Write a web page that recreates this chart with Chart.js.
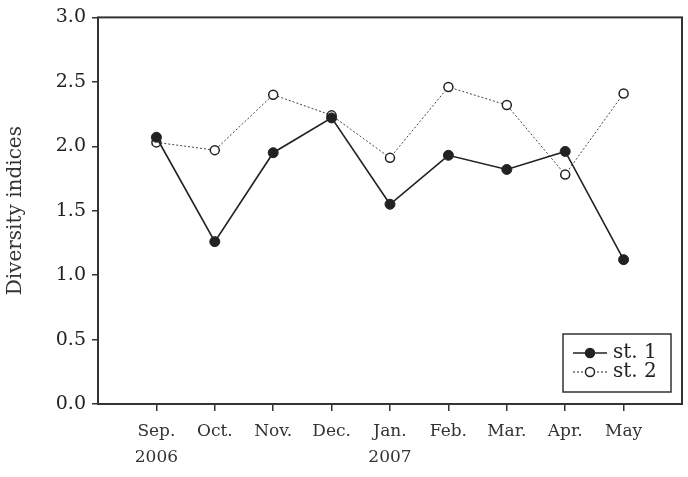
<!DOCTYPE html>
<html>
<head>
<meta charset="utf-8">
<script src="https://cdn.jsdelivr.net/npm/chart.js@4"></script>
<style>
  html, body { margin: 0; padding: 0; background: #fff; }
  #wrap { width: 688px; height: 477px; }
</style>
</head>
<body>
<div id="wrap"><canvas id="myChart" width="688" height="477"></canvas></div>
<script>
var months = ['Sep.', 'Oct.', 'Nov.', 'Dec.', 'Jan.', 'Feb.', 'Mar.', 'Apr.', 'May'];
var years = ['2006', '', '', '', '2007', '', '', '', ''];
var st1 = [2.07, 1.26, 1.95, 2.22, 1.55, 1.93, 1.82, 1.96, 1.12];
var st2 = [2.03, 1.97, 2.40, 2.24, 1.91, 2.46, 2.32, 1.78, 2.41];
var yTicks = ['0.0', '0.5', '1.0', '1.5', '2.0', '2.5', '3.0'];

var ink = '#222';
var serif = "'DejaVu Serif', serif";

function toPoints(values) {
    return values.map(function (v, i) { return { x: i, y: v }; });
}

// box round the plot and the little legend in the lower right
var framePlugin = {
    id: 'frame',
    afterDraw: function (chart) {
        var ctx = chart.ctx;
        var a = chart.chartArea;
        ctx.save();
        ctx.strokeStyle = '#333';
        ctx.lineWidth = 2;
        ctx.strokeRect(a.left, a.top, a.right - a.left, a.bottom - a.top);

        var bx = a.right - 119, by = a.bottom - 70, bw = 108, bh = 58;
        ctx.fillStyle = '#fff';
        ctx.fillRect(bx, by, bw, bh);
        ctx.lineWidth = 1.5;
        ctx.strokeRect(bx, by, bw, bh);

        var rows = [
            { label: 'st. 1', dash: [], fill: ink, y: by + 19 },
            { label: 'st. 2', dash: [2, 2], fill: '#fff', y: by + 38 }
        ];
        rows.forEach(function (r) {
            ctx.strokeStyle = ink;
            ctx.lineWidth = r.dash.length ? 1 : 1.5;
            ctx.setLineDash(r.dash);
            ctx.beginPath();
            ctx.moveTo(bx + 10, r.y);
            ctx.lineTo(bx + 44, r.y);
            ctx.stroke();
            ctx.setLineDash([]);
            ctx.beginPath();
            ctx.arc(bx + 27, r.y, 4.5, 0, Math.PI * 2);
            ctx.fillStyle = r.fill;
            ctx.fill();
            ctx.lineWidth = 1.5;
            ctx.stroke();
            ctx.fillStyle = ink;
            ctx.font = '20px ' + serif;
            ctx.textBaseline = 'middle';
            ctx.fillText(r.label, bx + 50, r.y);
        });
        ctx.restore();
    }
};

var ctx = document.getElementById('myChart').getContext('2d');
var chart = new Chart(ctx, {
    type: 'line',
    data: {
        datasets: [{
            label: 'st. 1',
            data: toPoints(st1),
            borderColor: ink,
            borderWidth: 1.6,
            pointBackgroundColor: ink,
            pointBorderColor: ink,
            pointRadius: 5,
            pointBorderWidth: 1,
            fill: false,
            tension: 0
        }, {
            label: 'st. 2',
            data: toPoints(st2),
            borderColor: '#444',
            borderWidth: 1,
            borderDash: [2, 2],
            pointBackgroundColor: '#fff',
            pointBorderColor: ink,
            pointRadius: 4.5,
            pointBorderWidth: 1.5,
            fill: false,
            tension: 0
        }]
    },
    options: {
        responsive: false,
        animation: false,
        layout: { padding: { top: 15, right: 6, left: 0, bottom: 0 } },
        plugins: {
            legend: { display: false },
            tooltip: { enabled: false }
        },
        scales: {
            x: {
                type: 'linear',
                min: -1,
                max: 9,
                afterBuildTicks: function (axis) {
                    axis.ticks = months.map(function (m, i) { return { value: i }; });
                },
                afterFit: function (axis) { axis.height = 73; },
                border: { display: false },
                grid: { drawOnChartArea: false, tickLength: 7, color: '#333', lineWidth: 1.5 },
                ticks: {
                    autoSkip: false,
                    maxRotation: 0,
                    color: '#333',
                    padding: 8,
                    font: { family: serif, size: 17, lineHeight: 1.5 },
                    callback: function (v) {
                        var i = Math.round(v);
                        return years[i] ? [months[i], years[i]] : months[i];
                    }
                }
            },
            y: {
                min: 0,
                max: 3,
                afterFit: function (axis) { axis.width = 98; },
                border: { display: false },
                grid: { drawOnChartArea: false, tickLength: 6, color: '#333', lineWidth: 1.5 },
                ticks: {
                    stepSize: 0.5,
                    color: ink,
                    padding: 6,
                    font: { family: serif, size: 19 },
                    callback: function (v) { return yTicks[Math.round(v * 2)]; }
                },
                title: {
                    display: true,
                    text: 'Diversity indices',
                    color: '#333',
                    padding: { top: 4, bottom: 0 },
                    font: { family: serif, size: 20 }
                }
            }
        }
    },
    plugins: [framePlugin]
});
</script>
</body>
</html>
